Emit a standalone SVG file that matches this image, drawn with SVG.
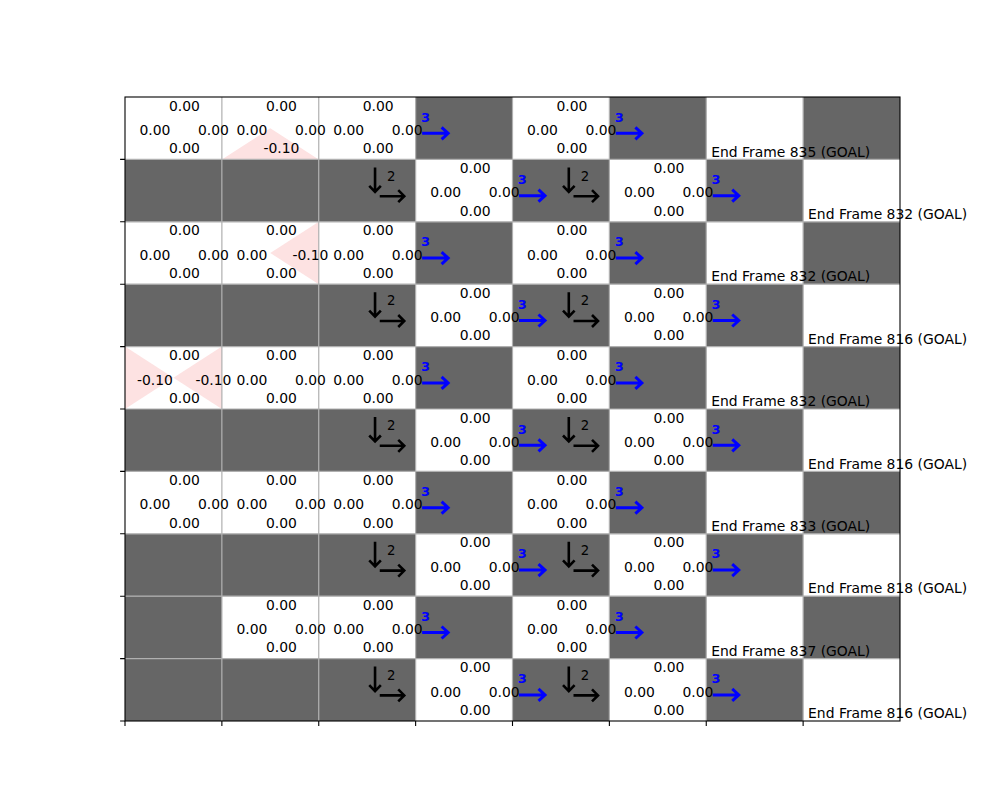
<svg xmlns="http://www.w3.org/2000/svg" xmlns:xlink="http://www.w3.org/1999/xlink" width="1000" height="810" viewBox="0 0 1000 810">
<style>
.w{fill:#ffffff}
.d{fill:#666666}
.tri{fill:#fde2e2}
.v{font-family:"DejaVu Sans","Liberation Sans",sans-serif;font-size:13.9px;fill:#000;text-anchor:middle}
.lab{font-family:"DejaVu Sans","Liberation Sans",sans-serif;font-size:13.9px;fill:#000}
.b3{font-family:"DejaVu Sans","Liberation Sans",sans-serif;font-size:13px;font-weight:bold;fill:#0000ff}
.k2{font-family:"DejaVu Sans","Liberation Sans",sans-serif;font-size:13.3px;fill:#000}
.bl{fill:none;stroke:#0000ff;stroke-width:3;stroke-linejoin:miter}
.kl{fill:none;stroke:#000;stroke-width:2.6;stroke-linejoin:miter}
.grid{fill:none;stroke:#b0b0b0;stroke-width:1.2}
.spine{fill:none;stroke:#000;stroke-width:1.1}
</style>
<defs>
<g id="blueArrow"><text class="b3" x="5.3" y="24.7">3</text><path class="bl" d="M6.5 36.3H32.5M26 30.3L32.5 36.3L26 42.3"/></g>
<g id="blackArrow"><path class="kl" d="M56.3 8V32.5M50.5 26.5L56.3 32.5L62.1 26.5M61 36.8H85.5M79.5 30.8L85.5 36.8L79.5 42.8"/><text class="k2" x="68.3" y="21.3">2</text></g>
</defs>
<rect width="1000" height="810" fill="#ffffff"/>
<g id="cells">
<rect x="125" y="97" width="775" height="624" class="w"/>
<g id="cell-r0-c3"><rect class="d" x="415.625" y="97" width="96.875" height="62.4"/></g>
<g id="cell-r0-c5"><rect class="d" x="609.375" y="97" width="96.875" height="62.4"/></g>
<g id="cell-r0-c7"><rect class="d" x="803.125" y="97" width="96.875" height="62.4"/></g>
<g id="cell-r1-c0"><rect class="d" x="125" y="159.4" width="96.875" height="62.4"/></g>
<g id="cell-r1-c1"><rect class="d" x="221.875" y="159.4" width="96.875" height="62.4"/></g>
<g id="cell-r1-c2"><rect class="d" x="318.75" y="159.4" width="96.875" height="62.4"/></g>
<g id="cell-r1-c4"><rect class="d" x="512.5" y="159.4" width="96.875" height="62.4"/></g>
<g id="cell-r1-c6"><rect class="d" x="706.25" y="159.4" width="96.875" height="62.4"/></g>
<g id="cell-r2-c3"><rect class="d" x="415.625" y="221.8" width="96.875" height="62.4"/></g>
<g id="cell-r2-c5"><rect class="d" x="609.375" y="221.8" width="96.875" height="62.4"/></g>
<g id="cell-r2-c7"><rect class="d" x="803.125" y="221.8" width="96.875" height="62.4"/></g>
<g id="cell-r3-c0"><rect class="d" x="125" y="284.2" width="96.875" height="62.4"/></g>
<g id="cell-r3-c1"><rect class="d" x="221.875" y="284.2" width="96.875" height="62.4"/></g>
<g id="cell-r3-c2"><rect class="d" x="318.75" y="284.2" width="96.875" height="62.4"/></g>
<g id="cell-r3-c4"><rect class="d" x="512.5" y="284.2" width="96.875" height="62.4"/></g>
<g id="cell-r3-c6"><rect class="d" x="706.25" y="284.2" width="96.875" height="62.4"/></g>
<g id="cell-r4-c3"><rect class="d" x="415.625" y="346.6" width="96.875" height="62.4"/></g>
<g id="cell-r4-c5"><rect class="d" x="609.375" y="346.6" width="96.875" height="62.4"/></g>
<g id="cell-r4-c7"><rect class="d" x="803.125" y="346.6" width="96.875" height="62.4"/></g>
<g id="cell-r5-c0"><rect class="d" x="125" y="409" width="96.875" height="62.4"/></g>
<g id="cell-r5-c1"><rect class="d" x="221.875" y="409" width="96.875" height="62.4"/></g>
<g id="cell-r5-c2"><rect class="d" x="318.75" y="409" width="96.875" height="62.4"/></g>
<g id="cell-r5-c4"><rect class="d" x="512.5" y="409" width="96.875" height="62.4"/></g>
<g id="cell-r5-c6"><rect class="d" x="706.25" y="409" width="96.875" height="62.4"/></g>
<g id="cell-r6-c3"><rect class="d" x="415.625" y="471.4" width="96.875" height="62.4"/></g>
<g id="cell-r6-c5"><rect class="d" x="609.375" y="471.4" width="96.875" height="62.4"/></g>
<g id="cell-r6-c7"><rect class="d" x="803.125" y="471.4" width="96.875" height="62.4"/></g>
<g id="cell-r7-c0"><rect class="d" x="125" y="533.8" width="96.875" height="62.4"/></g>
<g id="cell-r7-c1"><rect class="d" x="221.875" y="533.8" width="96.875" height="62.4"/></g>
<g id="cell-r7-c2"><rect class="d" x="318.75" y="533.8" width="96.875" height="62.4"/></g>
<g id="cell-r7-c4"><rect class="d" x="512.5" y="533.8" width="96.875" height="62.4"/></g>
<g id="cell-r7-c6"><rect class="d" x="706.25" y="533.8" width="96.875" height="62.4"/></g>
<g id="cell-r8-c0"><rect class="d" x="125" y="596.2" width="96.875" height="62.4"/></g>
<g id="cell-r8-c3"><rect class="d" x="415.625" y="596.2" width="96.875" height="62.4"/></g>
<g id="cell-r8-c5"><rect class="d" x="609.375" y="596.2" width="96.875" height="62.4"/></g>
<g id="cell-r8-c7"><rect class="d" x="803.125" y="596.2" width="96.875" height="62.4"/></g>
<g id="cell-r9-c0"><rect class="d" x="125" y="658.6" width="96.875" height="62.4"/></g>
<g id="cell-r9-c1"><rect class="d" x="221.875" y="658.6" width="96.875" height="62.4"/></g>
<g id="cell-r9-c2"><rect class="d" x="318.75" y="658.6" width="96.875" height="62.4"/></g>
<g id="cell-r9-c4"><rect class="d" x="512.5" y="658.6" width="96.875" height="62.4"/></g>
<g id="cell-r9-c6"><rect class="d" x="706.25" y="658.6" width="96.875" height="62.4"/></g>
<g id="penalty-triangles">
<polygon class="tri" points="221.875,159.4 318.75,159.4 270.31,128.2"/>
<polygon class="tri" points="318.75,221.8 318.75,284.2 270.31,253"/>
<polygon class="tri" points="125,346.6 125,409 173.44,377.8"/>
<polygon class="tri" points="221.875,346.6 221.875,409 173.44,377.8"/>
</g>
</g>
<g id="gridlines">
<path class="grid" d="M221.875 97V721M318.75 97V721M415.625 97V721M512.5 97V721M609.375 97V721M706.25 97V721M803.125 97V721M125 159.4H900M125 221.8H900M125 284.2H900M125 346.6H900M125 409H900M125 471.4H900M125 533.8H900M125 596.2H900M125 658.6H900"/>
</g>
<g id="values">
<g id="q-r0-c0" transform="translate(125,97)"><text class="v" x="59.5" y="13.5">0.00</text><text class="v" x="30" y="38">0.00</text><text class="v" x="88.5" y="38">0.00</text><text class="v" x="59.5" y="56.2">0.00</text></g>
<g id="q-r0-c1" transform="translate(221.875,97)"><text class="v" x="59.5" y="13.5">0.00</text><text class="v" x="30" y="38">0.00</text><text class="v" x="88.5" y="38">0.00</text><text class="v" x="59.5" y="56.2">-0.10</text></g>
<g id="q-r0-c2" transform="translate(318.75,97)"><text class="v" x="59.5" y="13.5">0.00</text><text class="v" x="30" y="38">0.00</text><text class="v" x="88.5" y="38">0.00</text><text class="v" x="59.5" y="56.2">0.00</text></g>
<g id="q-r0-c4" transform="translate(512.5,97)"><text class="v" x="59.5" y="13.5">0.00</text><text class="v" x="30" y="38">0.00</text><text class="v" x="88.5" y="38">0.00</text><text class="v" x="59.5" y="56.2">0.00</text></g>
<g id="q-r1-c3" transform="translate(415.625,159.4)"><text class="v" x="59.5" y="13.5">0.00</text><text class="v" x="30" y="38">0.00</text><text class="v" x="88.5" y="38">0.00</text><text class="v" x="59.5" y="56.2">0.00</text></g>
<g id="q-r1-c5" transform="translate(609.375,159.4)"><text class="v" x="59.5" y="13.5">0.00</text><text class="v" x="30" y="38">0.00</text><text class="v" x="88.5" y="38">0.00</text><text class="v" x="59.5" y="56.2">0.00</text></g>
<g id="q-r2-c0" transform="translate(125,221.8)"><text class="v" x="59.5" y="13.5">0.00</text><text class="v" x="30" y="38">0.00</text><text class="v" x="88.5" y="38">0.00</text><text class="v" x="59.5" y="56.2">0.00</text></g>
<g id="q-r2-c1" transform="translate(221.875,221.8)"><text class="v" x="59.5" y="13.5">0.00</text><text class="v" x="30" y="38">0.00</text><text class="v" x="88.5" y="38">-0.10</text><text class="v" x="59.5" y="56.2">0.00</text></g>
<g id="q-r2-c2" transform="translate(318.75,221.8)"><text class="v" x="59.5" y="13.5">0.00</text><text class="v" x="30" y="38">0.00</text><text class="v" x="88.5" y="38">0.00</text><text class="v" x="59.5" y="56.2">0.00</text></g>
<g id="q-r2-c4" transform="translate(512.5,221.8)"><text class="v" x="59.5" y="13.5">0.00</text><text class="v" x="30" y="38">0.00</text><text class="v" x="88.5" y="38">0.00</text><text class="v" x="59.5" y="56.2">0.00</text></g>
<g id="q-r3-c3" transform="translate(415.625,284.2)"><text class="v" x="59.5" y="13.5">0.00</text><text class="v" x="30" y="38">0.00</text><text class="v" x="88.5" y="38">0.00</text><text class="v" x="59.5" y="56.2">0.00</text></g>
<g id="q-r3-c5" transform="translate(609.375,284.2)"><text class="v" x="59.5" y="13.5">0.00</text><text class="v" x="30" y="38">0.00</text><text class="v" x="88.5" y="38">0.00</text><text class="v" x="59.5" y="56.2">0.00</text></g>
<g id="q-r4-c0" transform="translate(125,346.6)"><text class="v" x="59.5" y="13.5">0.00</text><text class="v" x="30" y="38">-0.10</text><text class="v" x="88.5" y="38">-0.10</text><text class="v" x="59.5" y="56.2">0.00</text></g>
<g id="q-r4-c1" transform="translate(221.875,346.6)"><text class="v" x="59.5" y="13.5">0.00</text><text class="v" x="30" y="38">0.00</text><text class="v" x="88.5" y="38">0.00</text><text class="v" x="59.5" y="56.2">0.00</text></g>
<g id="q-r4-c2" transform="translate(318.75,346.6)"><text class="v" x="59.5" y="13.5">0.00</text><text class="v" x="30" y="38">0.00</text><text class="v" x="88.5" y="38">0.00</text><text class="v" x="59.5" y="56.2">0.00</text></g>
<g id="q-r4-c4" transform="translate(512.5,346.6)"><text class="v" x="59.5" y="13.5">0.00</text><text class="v" x="30" y="38">0.00</text><text class="v" x="88.5" y="38">0.00</text><text class="v" x="59.5" y="56.2">0.00</text></g>
<g id="q-r5-c3" transform="translate(415.625,409)"><text class="v" x="59.5" y="13.5">0.00</text><text class="v" x="30" y="38">0.00</text><text class="v" x="88.5" y="38">0.00</text><text class="v" x="59.5" y="56.2">0.00</text></g>
<g id="q-r5-c5" transform="translate(609.375,409)"><text class="v" x="59.5" y="13.5">0.00</text><text class="v" x="30" y="38">0.00</text><text class="v" x="88.5" y="38">0.00</text><text class="v" x="59.5" y="56.2">0.00</text></g>
<g id="q-r6-c0" transform="translate(125,471.4)"><text class="v" x="59.5" y="13.5">0.00</text><text class="v" x="30" y="38">0.00</text><text class="v" x="88.5" y="38">0.00</text><text class="v" x="59.5" y="56.2">0.00</text></g>
<g id="q-r6-c1" transform="translate(221.875,471.4)"><text class="v" x="59.5" y="13.5">0.00</text><text class="v" x="30" y="38">0.00</text><text class="v" x="88.5" y="38">0.00</text><text class="v" x="59.5" y="56.2">0.00</text></g>
<g id="q-r6-c2" transform="translate(318.75,471.4)"><text class="v" x="59.5" y="13.5">0.00</text><text class="v" x="30" y="38">0.00</text><text class="v" x="88.5" y="38">0.00</text><text class="v" x="59.5" y="56.2">0.00</text></g>
<g id="q-r6-c4" transform="translate(512.5,471.4)"><text class="v" x="59.5" y="13.5">0.00</text><text class="v" x="30" y="38">0.00</text><text class="v" x="88.5" y="38">0.00</text><text class="v" x="59.5" y="56.2">0.00</text></g>
<g id="q-r7-c3" transform="translate(415.625,533.8)"><text class="v" x="59.5" y="13.5">0.00</text><text class="v" x="30" y="38">0.00</text><text class="v" x="88.5" y="38">0.00</text><text class="v" x="59.5" y="56.2">0.00</text></g>
<g id="q-r7-c5" transform="translate(609.375,533.8)"><text class="v" x="59.5" y="13.5">0.00</text><text class="v" x="30" y="38">0.00</text><text class="v" x="88.5" y="38">0.00</text><text class="v" x="59.5" y="56.2">0.00</text></g>
<g id="q-r8-c1" transform="translate(221.875,596.2)"><text class="v" x="59.5" y="13.5">0.00</text><text class="v" x="30" y="38">0.00</text><text class="v" x="88.5" y="38">0.00</text><text class="v" x="59.5" y="56.2">0.00</text></g>
<g id="q-r8-c2" transform="translate(318.75,596.2)"><text class="v" x="59.5" y="13.5">0.00</text><text class="v" x="30" y="38">0.00</text><text class="v" x="88.5" y="38">0.00</text><text class="v" x="59.5" y="56.2">0.00</text></g>
<g id="q-r8-c4" transform="translate(512.5,596.2)"><text class="v" x="59.5" y="13.5">0.00</text><text class="v" x="30" y="38">0.00</text><text class="v" x="88.5" y="38">0.00</text><text class="v" x="59.5" y="56.2">0.00</text></g>
<g id="q-r9-c3" transform="translate(415.625,658.6)"><text class="v" x="59.5" y="13.5">0.00</text><text class="v" x="30" y="38">0.00</text><text class="v" x="88.5" y="38">0.00</text><text class="v" x="59.5" y="56.2">0.00</text></g>
<g id="q-r9-c5" transform="translate(609.375,658.6)"><text class="v" x="59.5" y="13.5">0.00</text><text class="v" x="30" y="38">0.00</text><text class="v" x="88.5" y="38">0.00</text><text class="v" x="59.5" y="56.2">0.00</text></g>
</g>
<g id="policy-arrows">
<use xlink:href="#blueArrow" x="415.625" y="97"/><use xlink:href="#blueArrow" x="609.375" y="97"/>
<use xlink:href="#blackArrow" x="318.75" y="159.4"/><use xlink:href="#blueArrow" x="512.5" y="159.4"/><use xlink:href="#blackArrow" x="512.5" y="159.4"/><use xlink:href="#blueArrow" x="706.25" y="159.4"/>
<use xlink:href="#blueArrow" x="415.625" y="221.8"/><use xlink:href="#blueArrow" x="609.375" y="221.8"/>
<use xlink:href="#blackArrow" x="318.75" y="284.2"/><use xlink:href="#blueArrow" x="512.5" y="284.2"/><use xlink:href="#blackArrow" x="512.5" y="284.2"/><use xlink:href="#blueArrow" x="706.25" y="284.2"/>
<use xlink:href="#blueArrow" x="415.625" y="346.6"/><use xlink:href="#blueArrow" x="609.375" y="346.6"/>
<use xlink:href="#blackArrow" x="318.75" y="409"/><use xlink:href="#blueArrow" x="512.5" y="409"/><use xlink:href="#blackArrow" x="512.5" y="409"/><use xlink:href="#blueArrow" x="706.25" y="409"/>
<use xlink:href="#blueArrow" x="415.625" y="471.4"/><use xlink:href="#blueArrow" x="609.375" y="471.4"/>
<use xlink:href="#blackArrow" x="318.75" y="533.8"/><use xlink:href="#blueArrow" x="512.5" y="533.8"/><use xlink:href="#blackArrow" x="512.5" y="533.8"/><use xlink:href="#blueArrow" x="706.25" y="533.8"/>
<use xlink:href="#blueArrow" x="415.625" y="596.2"/><use xlink:href="#blueArrow" x="609.375" y="596.2"/>
<use xlink:href="#blackArrow" x="318.75" y="658.6"/><use xlink:href="#blueArrow" x="512.5" y="658.6"/><use xlink:href="#blackArrow" x="512.5" y="658.6"/><use xlink:href="#blueArrow" x="706.25" y="658.6"/>
</g>
<g id="axes">
<rect class="spine" x="125" y="97" width="775" height="624"/>
<path class="spine" d="M120.1 159.4H125M120.1 221.8H125M120.1 284.2H125M120.1 346.6H125M120.1 409H125M120.1 471.4H125M120.1 533.8H125M120.1 596.2H125M120.1 658.6H125M120.1 721H125M125 721V725.9M221.875 721V725.9M318.75 721V725.9M415.625 721V725.9M512.5 721V725.9M609.375 721V725.9M706.25 721V725.9M803.125 721V725.9"/>
</g>
<g id="labels">
<text class="lab" x="711.25" y="156.5">End Frame 835 (GOAL)</text>
<text class="lab" x="808.1" y="218.9">End Frame 832 (GOAL)</text>
<text class="lab" x="711.25" y="281.3">End Frame 832 (GOAL)</text>
<text class="lab" x="808.1" y="343.7">End Frame 816 (GOAL)</text>
<text class="lab" x="711.25" y="406.1">End Frame 832 (GOAL)</text>
<text class="lab" x="808.1" y="468.5">End Frame 816 (GOAL)</text>
<text class="lab" x="711.25" y="530.9">End Frame 833 (GOAL)</text>
<text class="lab" x="808.1" y="593.3">End Frame 818 (GOAL)</text>
<text class="lab" x="711.25" y="655.7">End Frame 837 (GOAL)</text>
<text class="lab" x="808.1" y="718.1">End Frame 816 (GOAL)</text>
</g>
</svg>
